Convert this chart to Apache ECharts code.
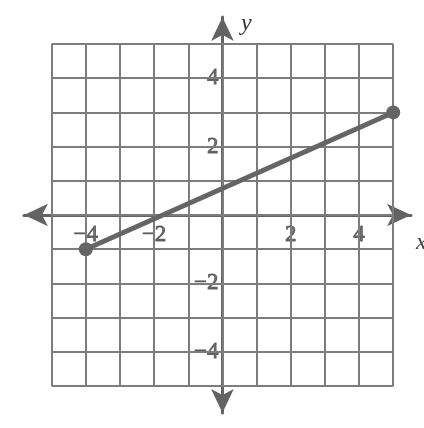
<!DOCTYPE html>
<html>
<head>
<meta charset="utf-8">
<script src="https://cdn.jsdelivr.net/npm/echarts@6/dist/echarts.min.js"></script>
<style>
  html, body { margin: 0; padding: 0; background: #fff; }
  #chart { width: 424px; height: 428px; }
</style>
</head>
<body>
<div id="chart"></div>
<script>
// segment endpoints
const segX = [-4, 5];
const segY = [-1, 3];
// grid squares go from -5 to 5 on both axes
const gridValues = [-5, -4, -3, -2, -1, 0, 1, 2, 3, 4, 5];
const xTickLabels = [-4, -2, 2, 4];
const yTickLabels = [-4, -2, 2, 4];

const AXIS = '#636363';
const GRID = '#7d7d7d';
const INK = '#656565';
const FONT = "'Liberation Serif', 'DejaVu Serif', serif";

const chart = echarts.init(document.getElementById('chart'));

const gridLines = [];
gridValues.forEach(v => {
    gridLines.push([{ coord: [-5, v] }, { coord: [5, v] }]);
    gridLines.push([{ coord: [v, -5] }, { coord: [v, 5] }]);
});

const minus = v => (v < 0 ? '\u2212' + Math.abs(v) : String(v));

const tickLabel = {
    show: true,
    color: '#4a4a4a',
    textBorderColor: '#4a4a4a',
    textBorderWidth: 0.8,
    fontFamily: FONT,
    fontSize: 23,
    backgroundColor: '#fff',
    padding: [0, 1]
};

const axisCommon = {
    type: 'value',
    splitLine: { show: false },
    axisTick: { show: false },
    axisLabel: { show: false },
    axisLine: {
        show: true,
        onZero: true,
        symbol: ['arrow', 'arrow'],
        symbolSize: [17, 24],
        lineStyle: { color: AXIS, width: 3 }
    }
};

chart.setOption({
    animation: false,
    backgroundColor: '#fff',
    grid: { left: 24, right: 13, top: 17, bottom: 15, containLabel: false, outerBoundsMode: 'none' },
    xAxis: Object.assign({}, axisCommon, { min: -5.81, max: 5.52 }),
    yAxis: Object.assign({}, axisCommon, { min: -5.79, max: 5.79 }),
    graphic: [
        {
            type: 'text', left: 241, top: 12,
            style: { text: 'y', fill: '#333', font: "italic 24px 'Liberation Serif'" }
        },
        {
            type: 'text', left: 416, top: 231,
            style: { text: 'x', fill: '#444', font: "italic 24px 'Liberation Serif'" }
        }
    ],
    series: [
        {
            type: 'line',
            data: [],
            silent: true,
            z: 1,
            markLine: {
                silent: true,
                symbol: 'none',
                label: { show: false },
                lineStyle: { color: GRID, width: 2, type: 'solid' },
                data: gridLines
            }
        },
        {
            type: 'line',
            data: segX.map((x, i) => [x, segY[i]]),
            symbol: 'circle',
            symbolSize: 14,
            z: 5,
            lineStyle: { color: INK, width: 5 },
            itemStyle: { color: INK }
        },
        {
            // x tick labels sit just under the x axis
            type: 'scatter',
            silent: true,
            symbolSize: 0,
            z: 4,
            data: xTickLabels.map(v => [v, 0]),
            label: Object.assign({}, tickLabel, {
                position: 'bottom',
                distance: 8,
                formatter: p => minus(p.value[0])
            })
        },
        {
            // y tick labels sit just left of the y axis
            type: 'scatter',
            silent: true,
            symbolSize: 0,
            z: 4,
            data: yTickLabels.map(v => [0, v]),
            label: Object.assign({}, tickLabel, {
                position: 'left',
                distance: 3,
                formatter: p => minus(p.value[1])
            })
        }
    ]
});
</script>
</body>
</html>
